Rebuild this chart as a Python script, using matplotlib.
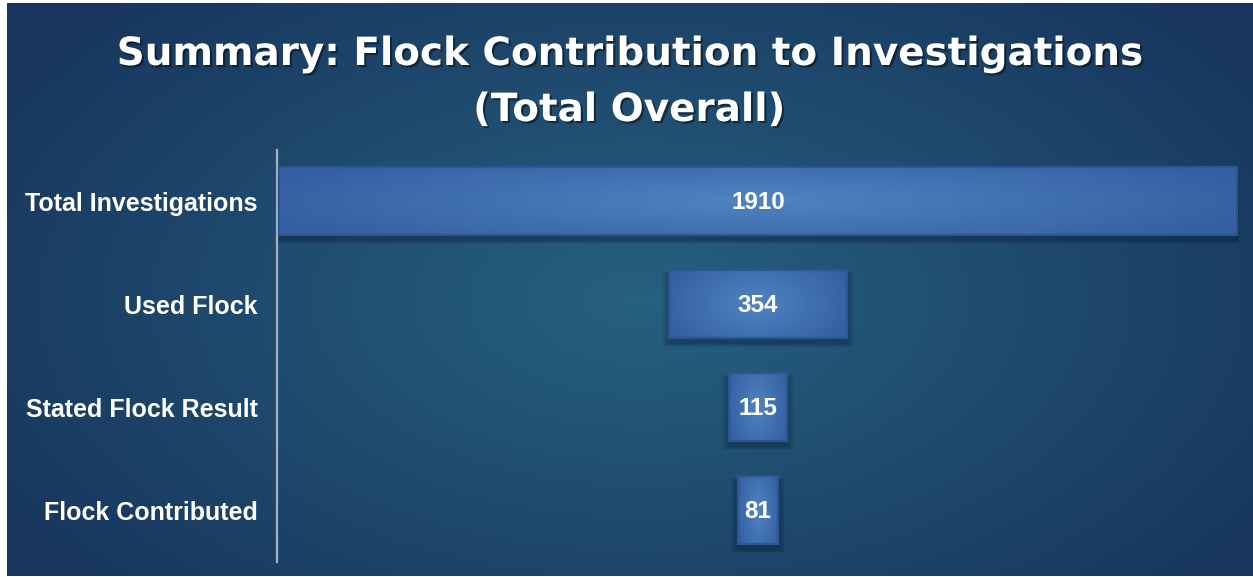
import numpy as np
import matplotlib
matplotlib.use("Agg")
import matplotlib.pyplot as plt
from matplotlib.patches import Rectangle
import matplotlib.patheffects as pe

categories = ["Total Investigations", "Used Flock", "Stated Flock Result", "Flock Contributed"]
values = [1910, 354, 115, 81]
title_line1 = "Summary: Flock Contribution to Investigations"
title_line2 = "(Total Overall)"

W, H = 1253, 577
fig = plt.figure(figsize=(W / 100, H / 100), dpi=100, facecolor="white")

# ---- background radial gradient ----
bx0, bx1, by0, by1 = 7, 1253, 3, 576
bg = fig.add_axes([bx0 / W, (H - by1) / H, (bx1 - bx0) / W, (by1 - by0) / H])
xs = np.arange(bx0, bx1)
ys = np.arange(by0, by1)
X, Y = np.meshgrid(xs, ys)
cx, cy, rx, ry = 640, 300, 760, 430
d = np.clip(np.sqrt(((X - cx) / rx) ** 2 + ((Y - cy) / ry) ** 2), 0, 1)
c_center = np.array([38, 97, 127]) / 255
c_edge = np.array([24, 53, 93]) / 255
img = c_center[None, None, :] * (1 - d[..., None]) + c_edge[None, None, :] * d[..., None]
bg.imshow(img, aspect="auto", extent=[0, 1, 0, 1], interpolation="bilinear")
bg.set_axis_off()

# ---- main axes ----
ax_l, ax_r, ax_t, ax_b = 277, 1239, 149.5, 562
ax = fig.add_axes([ax_l / W, (H - ax_b) / H, (ax_r - ax_l) / W, (ax_b - ax_t) / H])
ax.set_facecolor("none")
n = len(values)
half = max(values) / 2 * (ax_r - ax_l) / 958
ax.set_xlim(-half, half)
ax.set_ylim(n - 0.5, -0.5)

px_per_x = (ax_r - ax_l) / (2 * half)
px_per_y = (ax_b - ax_t) / n
bar_h = 0.66

grad_u = np.linspace(-1, 1, 200)
grad_v = np.linspace(-1, 1, 60)
U, V = np.meshgrid(grad_u, grad_v)
gd = np.clip(np.sqrt(U ** 2 * 0.85 + V ** 2 * 0.35), 0, 1)
bar_center = np.array([80, 131, 192]) / 255
bar_edge = np.array([52, 96, 163]) / 255
bar_img = bar_center[None, None, :] * (1 - gd[..., None]) + bar_edge[None, None, :] * gd[..., None]

for i, v in enumerate(values):
    left = -v / 2
    y0 = i - bar_h / 2
    # soft shadow
    for k in range(6):
        grow_x = (1 + k * 1.2) / px_per_x
        grow_y = (1 + k * 1.2) / px_per_y
        off = 5 / px_per_y
        ax.add_patch(Rectangle((left - grow_x, y0 + off - grow_y * 0.5), v + 2 * grow_x,
                               bar_h + grow_y, facecolor="#0a1a30", edgecolor="none",
                               alpha=0.07, zorder=1))
    rect = Rectangle((left, y0), v, bar_h, facecolor="none", edgecolor="none", zorder=2)
    ax.add_patch(rect)
    im = ax.imshow(bar_img, extent=[left, left + v, y0 + bar_h, y0], aspect="auto",
                   interpolation="bilinear", zorder=2)
    im.set_clip_path(rect)
    ax.add_patch(Rectangle((left, y0), v, bar_h, facecolor="none", edgecolor="#2b5690",
                           linewidth=1.6, zorder=3))
    ax.text(0, i + 0.01, f"{v}", ha="center", va="center", color="white", fontsize=17.5,
            fontweight="bold", family="Liberation Sans", zorder=4)

ax.set_xlim(-half, half)
ax.set_ylim(n - 0.5, -0.5)
ax.set_xticks([])
ax.set_yticks(range(n))
ax.set_yticklabels(categories, fontsize=18, fontweight="bold", color="white",
                   family="Liberation Sans")
ax.tick_params(axis="y", length=0, pad=13.7)
for s in ["top", "right", "bottom"]:
    ax.spines[s].set_visible(False)
ax.spines["left"].set_color("#a7b0bf")
ax.spines["left"].set_linewidth(1.6)

# ---- title ----
shadow = [pe.withSimplePatchShadow(offset=(1.5, -1.5), shadow_rgbFace="black", alpha=0.45)]
fig.text(629 / W, (H - 65) / H, title_line1, ha="center", va="baseline", color="white",
         fontsize=28, fontweight="bold", family="DejaVu Sans", path_effects=shadow)
fig.text(629 / W, (H - 121) / H, title_line2, ha="center", va="baseline", color="white",
         fontsize=28, fontweight="bold", family="DejaVu Sans", path_effects=shadow)

fig.savefig("out.png", dpi=100, facecolor="white")
